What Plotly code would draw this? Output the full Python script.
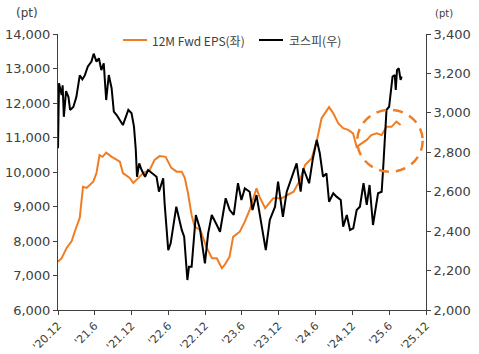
import plotly.graph_objects as go

eps_dates = ["2020-12-01","2020-12-19","2021-01-13","2021-02-07","2021-02-25","2021-03-19","2021-04-04","2021-04-22",
             "2021-05-25","2021-06-10","2021-06-25","2021-07-10","2021-07-28","2021-08-25","2021-10-04","2021-10-19",
             "2021-11-22","2021-12-10","2022-01-04","2022-01-28","2022-03-01","2022-03-25","2022-04-19","2022-05-19",
             "2022-06-16","2022-07-13","2022-08-07","2022-08-22","2022-09-07","2022-09-25","2022-10-10","2022-11-07",
             "2022-12-07","2023-01-04","2023-01-28","2023-02-22","2023-03-07","2023-04-01","2023-04-19","2023-05-22",
             "2023-06-16","2023-07-10","2023-08-13","2023-08-28","2023-09-25","2023-11-04","2023-12-16","2024-01-10",
             "2024-02-13","2024-03-16","2024-04-10","2024-05-13","2024-06-10","2024-07-01","2024-08-07","2024-08-28",
             "2024-09-22","2024-10-16","2024-11-10","2024-12-04","2024-12-22","2025-01-16","2025-02-10","2025-03-04",
             "2025-04-01","2025-04-25","2025-05-19","2025-06-13","2025-07-07","2025-07-28"]
eps_values = [7400,7500,7800,8000,8320,8670,9570,9540,
              9720,9970,10490,10440,10560,10440,10300,9970,
              9830,9680,9830,9970,10060,10350,10460,10440,
              10120,10010,10010,9830,9390,8750,8410,8320,
              7830,7500,7500,7210,7300,7540,8120,8270,
              8560,8900,9530,9280,8950,9240,9240,9330,
              9430,9770,10200,10400,10980,11560,11880,11700,
              11410,11270,11220,11120,10730,10830,10930,11070,
              11120,11070,11310,11310,11460,11360]

kospi_dates = ["2020-12-01","2020-12-06","2020-12-19","2020-12-24","2020-12-30","2021-01-10","2021-01-22","2021-01-30",
               "2021-02-15","2021-03-02","2021-03-19","2021-04-01","2021-04-13","2021-04-28","2021-05-16","2021-05-27",
               "2021-06-10","2021-06-22","2021-07-04","2021-07-16","2021-07-28","2021-08-10","2021-08-24","2021-09-04",
               "2021-09-18","2021-10-04","2021-10-19","2021-11-15","2021-12-01","2021-12-13","2021-12-22","2021-12-28",
               "2022-01-08","2022-01-20","2022-02-06","2022-02-21","2022-03-16","2022-04-04","2022-04-16","2022-05-07",
               "2022-05-14","2022-06-01","2022-06-13","2022-07-11","2022-08-07","2022-08-19","2022-09-04","2022-09-12",
               "2022-09-25","2022-10-16","2022-11-05","2022-11-30","2022-12-16","2023-01-03","2023-01-28","2023-02-13",
               "2023-03-13","2023-04-02","2023-04-22","2023-05-13","2023-05-30","2023-06-16","2023-07-10","2023-07-24",
               "2023-08-13","2023-09-07","2023-09-28","2023-10-18","2023-11-13","2023-11-28","2023-12-22","2024-01-10",
               "2024-02-04","2024-02-28","2024-03-19","2024-04-01","2024-04-30","2024-05-19","2024-06-07","2024-06-22",
               "2024-07-08","2024-07-25","2024-08-07","2024-08-28","2024-09-13","2024-10-04","2024-10-16","2024-11-03",
               "2024-11-19","2024-12-05","2024-12-22","2025-01-07","2025-01-25","2025-02-10","2025-02-24","2025-03-13",
               "2025-04-07","2025-04-25","2025-05-02","2025-05-06","2025-05-14","2025-05-19","2025-06-01","2025-06-13",
               "2025-06-18","2025-06-29","2025-07-04","2025-07-10","2025-07-19","2025-07-28","2025-08-02"]
kospi_values = [2820,3150,3090,3140,2980,3110,3080,3015,
                3030,3080,3190,3170,3190,3235,3260,3300,
                3260,3277,3217,3251,3065,3192,3125,3006,
                2989,2964,2938,3015,2998,2930,2812,2676,
                2744,2710,2676,2710,2693,2676,2600,2668,
                2541,2304,2338,2524,2406,2372,2152,2220,
                2220,2482,2414,2237,2389,2482,2431,2397,
                2567,2507,2482,2643,2558,2617,2600,2507,
                2583,2423,2304,2457,2524,2651,2473,2600,
                2668,2744,2600,2719,2643,2770,2862,2795,
                2676,2693,2549,2592,2575,2558,2423,2482,
                2406,2414,2507,2524,2643,2533,2634,2431,
                2592,2600,2710,2790,2913,3015,3031,3133,
                3184,3192,3116,3217,3226,3167,3184]

x_tickvals = ["2020-12-01","2021-06-01","2021-12-01","2022-06-01","2022-12-01","2023-06-01",
              "2023-12-01","2024-06-01","2024-12-01","2025-06-01","2025-12-01"]
x_ticktext = ["'20.12","'21.6","'21.12","'22.6","'22.12","'23.6","'23.12","'24.6","'24.12","'25.6","'25.12"]

series_names = ["12M Fwd EPS(좌)", "코스피(우)"]

ORANGE = "#F07D23"
AXIS = "#404040"
FONT = "DejaVu Sans"
KFONT = "Noto Sans CJK KR"

fig = go.Figure()
fig.add_trace(go.Scatter(x=eps_dates, y=eps_values, name=series_names[0], mode="lines",
                         line=dict(color=ORANGE, width=2), yaxis="y", showlegend=False))
fig.add_trace(go.Scatter(x=kospi_dates, y=kospi_values, name=series_names[1], mode="lines",
                         line=dict(color="#000000", width=2), yaxis="y2", showlegend=False))

fig.add_shape(type="circle", xref="x domain", yref="y domain",
              x0=0.813, x1=0.991, y0=0.501, y1=0.725,
              line=dict(color=ORANGE, width=2.5, dash="10px,7px"), layer="above")

# manual legend (plot area: 58..426 px wide, 34..310 px tall)
PW, PH = 368.0, 276.0
def px(x):
    return (x - 58) / PW
def py(y):
    return (310 - y) / PH

leg_y = py(40)
for (x0, x1, tx, col, name) in [(123, 147, 150, ORANGE, series_names[0]),
                                (259, 283, 287, "#000000", series_names[1])]:
    fig.add_shape(type="line", xref="paper", yref="paper", x0=px(x0), x1=px(x1), y0=leg_y, y1=leg_y,
                  line=dict(color=col, width=2))
    fig.add_annotation(text=name, xref="paper", yref="paper", x=px(tx), y=leg_y,
                       xanchor="left", yanchor="middle", showarrow=False,
                       font=dict(family=KFONT, size=12, color="#404040"))

fig.update_layout(
    width=479, height=354,
    margin=dict(l=58, r=53, t=34, b=44),
    paper_bgcolor="white", plot_bgcolor="white",
    font=dict(family=FONT, size=12, color="#404040"),
    showlegend=False,
    xaxis=dict(type="date", range=["2020-12-01", "2025-12-01"], tickmode="array",
               tickvals=x_tickvals, ticktext=x_ticktext, tickangle=-45, automargin=False,
               showgrid=False, zeroline=False, showline=True, linecolor=AXIS, linewidth=1,
               ticks="outside", ticklen=4, tickcolor=AXIS,
               tickfont=dict(family=FONT, size=11, color="#404040")),
    yaxis=dict(range=[6000, 14000], dtick=1000, tickformat=",", showgrid=False, zeroline=False,
               automargin=False,
               showline=True, linecolor=AXIS, linewidth=1, ticks="outside", ticklen=4, tickcolor=AXIS,
               tickfont=dict(family=FONT, size=13, color="#404040")),
    yaxis2=dict(range=[2000, 3400], dtick=200, tickformat=",", overlaying="y", side="right",
                automargin=False,
                showgrid=False, zeroline=False, showline=True, linecolor=AXIS, linewidth=1,
                ticks="outside", ticklen=4, tickcolor=AXIS,
                tickfont=dict(family=FONT, size=13, color="#404040")),
)

fig.add_annotation(text="(pt)", xref="paper", yref="paper", x=px(27), y=py(13),
                   xanchor="center", yanchor="middle", showarrow=False,
                   font=dict(family=FONT, size=12, color="#404040"))
fig.add_annotation(text="(pt)", xref="paper", yref="paper", x=px(444), y=py(13),
                   xanchor="center", yanchor="middle", showarrow=False,
                   font=dict(family=FONT, size=10, color="#404040"))

fig.write_html("out.html")
